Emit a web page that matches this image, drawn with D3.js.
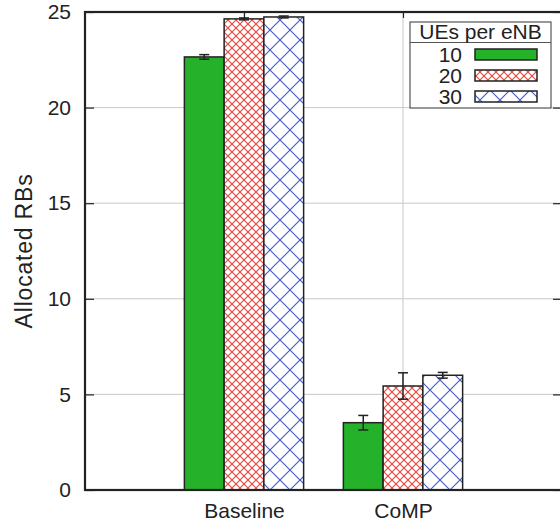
<!DOCTYPE html>
<html>
<head>
<meta charset="utf-8">
<script src="https://cdn.jsdelivr.net/npm/d3@7/dist/d3.min.js"></script>
<style>
  html, body { margin: 0; padding: 0; background: #fff; }
  svg { display: block; }
  text { font-family: "Liberation Sans", Arial, Helvetica, sans-serif; fill: #222; }
</style>
</head>
<body>
<svg id="chart" width="560" height="526"></svg>
<script>
// ---- data ----
const categories = ["Baseline", "CoMP"];
const seriesNames = ["10", "20", "30"];
const values10 = [22.65, 3.52];
const values20 = [24.64, 5.44];
const values30 = [24.74, 6.0];
const errors10 = [0.12, 0.38];
const errors20 = [0.05, 0.69];
const errors30 = [0.05, 0.15];
const yTicks = [0, 5, 10, 15, 20, 25];
const legendTitle = "UEs per eNB";
const yLabel = "Allocated RBs";

const seriesValues = [values10, values20, values30];
const seriesErrors = [errors10, errors20, errors30];

// ---- layout ----
const pL = 85, pR = 562, pT = 12, pB = 490;
const svg = d3.select("#chart");

const x = d3.scaleLinear().domain([0, categories.length + 1]).range([pL, pR]);
const y = d3.scaleLinear().domain([0, 25]).range([pB, pT]);
const barW = 0.25; // in x units

// ---- patterns ----
const defs = svg.append("defs");
function hatch(id, color, size, sw) {
  const p = defs.append("pattern")
    .attr("id", id).attr("patternUnits", "userSpaceOnUse")
    .attr("width", size).attr("height", size);
  p.append("rect").attr("width", size).attr("height", size).attr("fill", "#fff");
  p.append("path")
    .attr("d", `M0,0L${size},${size}M${size},0L0,${size}`)
    .attr("stroke", color).attr("stroke-width", sw).attr("fill", "none");
}
hatch("hatchRed", "#e8443a", 8, 1.1);
hatch("hatchBlue", "#4a5ec4", 20, 1.2);
const fills = ["#25b22a", "url(#hatchRed)", "url(#hatchBlue)"];

// ---- grid ----
const grid = svg.append("g");
grid.selectAll("line.h").data(yTicks.filter(t => t > 0 && t < 25)).join("line")
  .attr("x1", pL).attr("x2", pR)
  .attr("y1", d => y(d)).attr("y2", d => y(d))
  .attr("stroke", "#c8c8c8").attr("stroke-width", 1);
grid.selectAll("line.v").data(categories).join("line")
  .attr("x1", (d, i) => x(i + 1)).attr("x2", (d, i) => x(i + 1))
  .attr("y1", pT).attr("y2", pB)
  .attr("stroke", "#c8c8c8").attr("stroke-width", 1);

// ---- bars ----
const bars = svg.append("g");
seriesValues.forEach((vals, s) => {
  bars.selectAll(null).data(vals).join("rect")
    .attr("x", (d, i) => x(i + 1 + (s - 1.5) * barW))
    .attr("width", x(barW) - x(0))
    .attr("y", d => y(d))
    .attr("height", d => y(0) - y(d))
    .attr("fill", fills[s])
    .attr("stroke", "#222").attr("stroke-width", 1.5);
});

// ---- error bars ----
const eb = svg.append("g").attr("stroke", "#222").attr("stroke-width", 1.5);
seriesValues.forEach((vals, s) => {
  vals.forEach((v, i) => {
    const cx = x(i + 1 + (s - 1) * barW);
    const e = seriesErrors[s][i];
    eb.append("line").attr("x1", cx).attr("x2", cx).attr("y1", y(v - e)).attr("y2", y(v + e));
    eb.append("line").attr("x1", cx - 5).attr("x2", cx + 5).attr("y1", y(v - e)).attr("y2", y(v - e));
    eb.append("line").attr("x1", cx - 5).attr("x2", cx + 5).attr("y1", y(v + e)).attr("y2", y(v + e));
  });
});

// ---- axes ----
const yAxisL = d3.axisLeft(y).tickValues(yTicks).tickSizeInner(-9).tickSizeOuter(0).tickPadding(14);
const gL = svg.append("g").attr("transform", `translate(${pL},0)`).call(yAxisL);
gL.select(".domain").remove();
gL.selectAll(".tick line").attr("stroke", "#222").attr("stroke-width", 1.2);
gL.selectAll(".tick text").attr("font-size", 21).attr("fill", "#222")
  .attr("font-family", "Liberation Sans, Arial, sans-serif");

const yAxisR = d3.axisRight(y).tickValues(yTicks).tickSizeInner(-9).tickSizeOuter(0).tickFormat("");
const gR = svg.append("g").attr("transform", `translate(${pR},0)`).call(yAxisR);
gR.select(".domain").remove();
gR.selectAll(".tick line").attr("stroke", "#222").attr("stroke-width", 1.2);

const xAxisB = d3.axisBottom(x).tickValues(categories.map((c, i) => i + 1))
  .tickFormat((d) => categories[d - 1]).tickSizeInner(0).tickSizeOuter(0).tickPadding(13.5);
const gB = svg.append("g").attr("transform", `translate(0,${pB})`).call(xAxisB);
gB.select(".domain").remove();
gB.selectAll(".tick text").attr("font-size", 21).attr("fill", "#222")
  .attr("font-family", "Liberation Sans, Arial, sans-serif");

const xAxisT = d3.axisTop(x).tickValues(categories.map((c, i) => i + 1))
  .tickSizeInner(-6).tickSizeOuter(0).tickFormat("");
const gT = svg.append("g").attr("transform", `translate(0,${pT})`).call(xAxisT);
gT.select(".domain").remove();
gT.selectAll(".tick line").attr("stroke", "#222").attr("stroke-width", 1.2);

// frame
svg.append("rect").attr("x", pL).attr("y", pT)
  .attr("width", pR - pL).attr("height", pB - pT)
  .attr("fill", "none").attr("stroke", "#222").attr("stroke-width", 2.2);

// y label
svg.append("text")
  .attr("transform", `translate(32,${(pT + pB) / 2}) rotate(-90)`)
  .attr("text-anchor", "middle")
  .attr("font-size", 23)
  .attr("letter-spacing", 0.8)
  .text(yLabel);

// ---- legend ----
const lg = svg.append("g");
const lx = 410, ly = 22, lw = 141, lh = 86;
lg.append("rect").attr("x", lx).attr("y", ly).attr("width", lw).attr("height", lh)
  .attr("fill", "#fff").attr("stroke", "#555").attr("stroke-width", 1.2);
lg.append("line").attr("x1", lx).attr("x2", lx + lw).attr("y1", 42.5).attr("y2", 42.5)
  .attr("stroke", "#555").attr("stroke-width", 1.2);
lg.append("text").attr("x", lx + lw / 2).attr("y", 38.5).attr("text-anchor", "middle")
  .attr("font-size", 21).text(legendTitle);
seriesNames.forEach((name, s) => {
  const cy = 54 + s * 21;
  lg.append("text").attr("x", 462).attr("y", cy + 7.5).attr("text-anchor", "end")
    .attr("font-size", 21).text(name);
  lg.append("rect").attr("x", 475).attr("y", cy - 5).attr("width", 62).attr("height", 11)
    .attr("fill", fills[s]).attr("stroke", "#222").attr("stroke-width", 1.5);
});
</script>
</body>
</html>
